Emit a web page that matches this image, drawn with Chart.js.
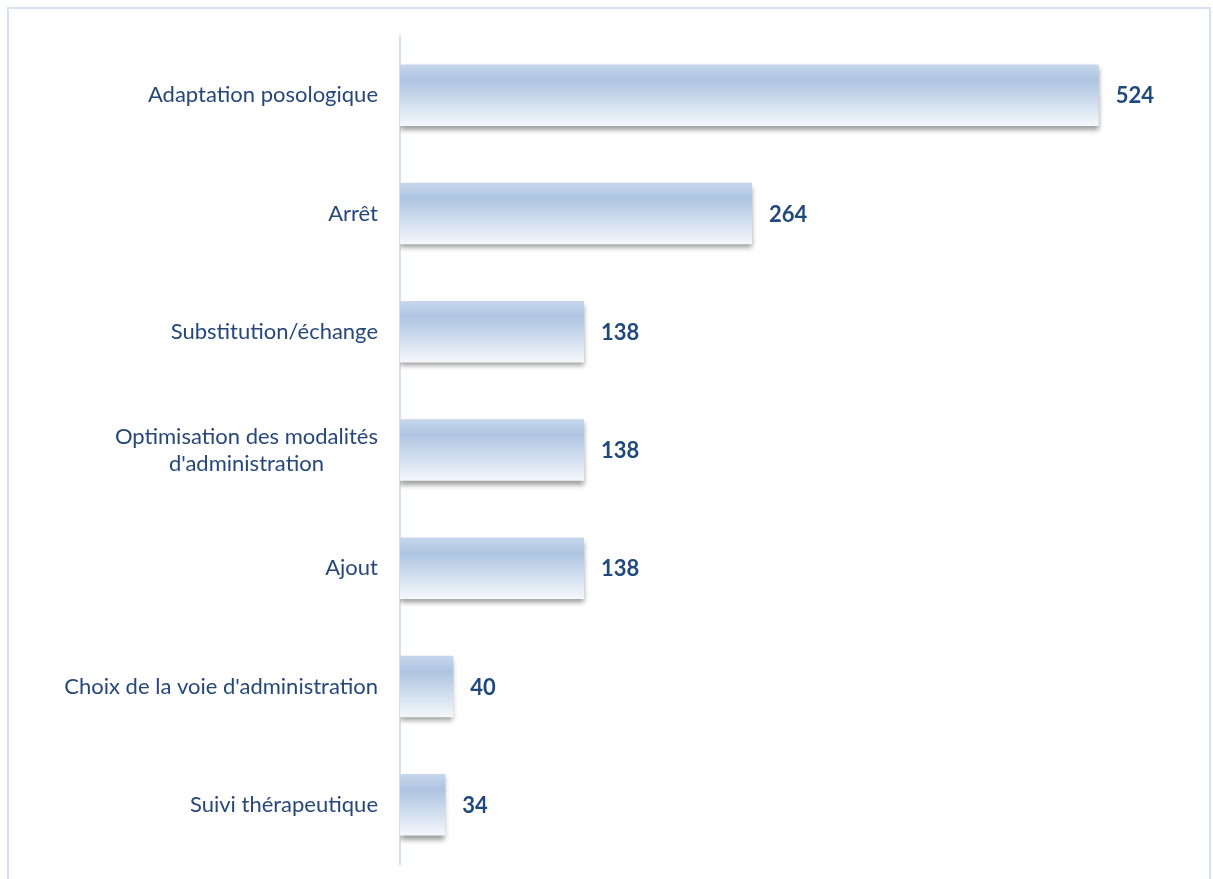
<!DOCTYPE html>
<html>
<head>
<meta charset="utf-8">
<script src="https://cdn.jsdelivr.net/npm/chart.js@4.4.1/dist/chart.umd.min.js"></script>
<style>
  html, body { margin: 0; padding: 0; background: #fff; overflow: hidden; }
  #frame { position: absolute; left: 7px; top: 7px; width: 1204px; height: 900px; border: 2px solid #d6e2f3; box-sizing: border-box; }
  #wrap { position: absolute; left: 0; top: 0; width: 1213px; height: 879px; }
</style>
</head>
<body>
<div id="frame"></div>
<div id="wrap"><canvas id="chart"></canvas></div>
<script>
const categories = [
  "Adaptation posologique",
  "Arrêt",
  "Substitution/échange",
  ["Optimisation des modalités", "d'administration"],
  "Ajout",
  "Choix de la voie d'administration",
  "Suivi thérapeutique"
];
const values = [524, 264, 138, 138, 138, 40, 34];

const LABEL_FONT = "22px Lato, 'Open Sans', sans-serif";
const VALUE_FONT = "bold 22px Lato, 'Open Sans', sans-serif";
const BAR_PCT = 0.52;

function barGradient(context) {
  const chart = context.chart;
  const y = chart.scales.y;
  if (!y || !chart.chartArea) return '#b3c8e3';
  const c = y.getPixelForValue(context.dataIndex);
  const h = (y.height / categories.length) * BAR_PCT;
  const g = chart.ctx.createLinearGradient(0, c - h / 2, 0, c + h / 2);
  g.addColorStop(0, '#c7d7ec');
  g.addColorStop(0.25, '#adc4e1');
  g.addColorStop(1, '#f5f8fc');
  return g;
}

// soft shadow under bars
const shadowPlugin = {
  id: 'barShadow',
  beforeDatasetsDraw(chart) {
    const ctx = chart.ctx;
    ctx.save();
    ctx.shadowColor = 'rgba(0,0,0,0.38)';
    ctx.shadowBlur = 5;
    ctx.shadowOffsetX = 0;
    ctx.shadowOffsetY = 4;
  },
  afterDatasetsDraw(chart) {
    chart.ctx.restore();
  }
};

// category labels (block right aligned, lines centred) and value labels
const labelPlugin = {
  id: 'labels',
  afterDraw(chart) {
    const ctx = chart.ctx;
    const y = chart.scales.y;
    const left = chart.chartArea.left;
    ctx.save();
    ctx.font = LABEL_FONT;
    ctx.fillStyle = '#26477a';
    ctx.textBaseline = 'middle';
    ctx.textAlign = 'center';
    const lineH = 27;
    categories.forEach((lab, i) => {
      const lines = Array.isArray(lab) ? lab : [lab];
      const w = Math.max(...lines.map(l => ctx.measureText(l).width));
      const cx = left - 22 - w / 2;
      const cy = y.getPixelForValue(i);
      lines.forEach((l, k) => {
        ctx.fillText(l, cx, cy + (k - (lines.length - 1) / 2) * lineH);
      });
    });
    ctx.font = VALUE_FONT;
    ctx.fillStyle = '#1f497d';
    ctx.textAlign = 'left';
    const meta = chart.getDatasetMeta(0);
    meta.data.forEach((bar, i) => {
      ctx.fillText(String(values[i]), bar.x + 17, bar.y + 1);
    });
    ctx.restore();
  }
};

new Chart(document.getElementById('chart'), {
  type: 'bar',
  data: {
    labels: categories,
    datasets: [{
      data: values,
      backgroundColor: barGradient,
      borderWidth: 0,
      categoryPercentage: 1,
      barPercentage: BAR_PCT
    }]
  },
  options: {
    indexAxis: 'y',
    responsive: true,
    maintainAspectRatio: false,
    animation: false,
    layout: { padding: { left: 0, right: 13, top: 36, bottom: 15 } },
    plugins: { legend: { display: false }, tooltip: { enabled: false } },
    scales: {
      x: { display: false, min: 0, max: 600 },
      y: {
        grid: { display: false, drawTicks: false },
        border: { display: true, color: '#d6e2f3', width: 2 },
        ticks: { display: false },
        afterFit(scale) { scale.width = 400; }
      }
    }
  },
  plugins: [shadowPlugin, labelPlugin]
});
</script>
</body>
</html>
